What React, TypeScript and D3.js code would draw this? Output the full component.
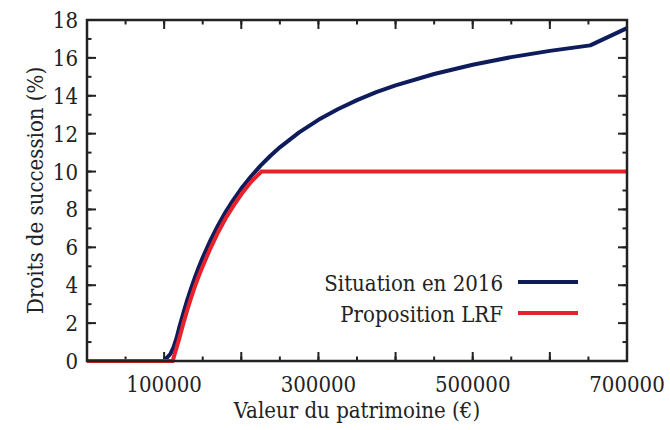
import React from "react";
import { scaleLinear, line, range } from "d3";

// Patrimoine (€) et droits de succession (%)
const situation2016X = [
  0, 100000, 104000, 108072, 112109, 115932, 120000, 125000, 130000, 135000,
  140000, 145000, 150000, 160000, 170000, 180000, 190000, 200000, 212500,
  225000, 237500, 250000, 275000, 300000, 325000, 350000, 375000, 400000,
  450000, 500000, 550000, 600000, 652324, 700000,
];
const situation2016Y = [
  0, 0, 0.19, 0.37, 0.72, 1.19, 1.83, 2.55, 3.23, 3.85, 4.42, 4.96, 5.46,
  6.37, 7.17, 7.89, 8.52, 9.1, 9.74, 10.31, 10.82, 11.28, 12.07, 12.73, 13.29,
  13.77, 14.19, 14.55, 15.15, 15.64, 16.04, 16.37, 16.66, 17.57,
];

const lrfX = [
  0, 111000, 115000, 120000, 125000, 130000, 135000, 140000, 145000, 150000,
  160000, 170000, 180000, 190000, 200000, 212500, 226000, 700000,
];
const lrfY = [
  0, 0, 0.55, 1.25, 2.0, 2.7, 3.35, 3.95, 4.5, 5.0, 5.95, 6.8, 7.55, 8.2, 8.8,
  9.45, 10.0, 10.0,
];

const xTickLabels = [100000, 300000, 500000, 700000];
const yTickLabels = [0, 2, 4, 6, 8, 10, 12, 14, 16, 18];

const W = 670;
const H = 430;
const left = 87;
const right = 627;
const top = 20;
const bottom = 361;

const FONT = '"DejaVu Serif Condensed", "DejaVu Serif", serif';
const BLUE = "#0f1c5c";
const RED = "#e8222b";
const INK = "#222";

export default function App() {
  const x = scaleLinear().domain([0, 700000]).range([left, right]);
  const y = scaleLinear().domain([0, 18]).range([bottom, top]);

  const path = line<[number, number]>()
    .x((d) => x(d[0]))
    .y((d) => y(d[1]));

  const blue = situation2016X.map((v, i) => [v, situation2016Y[i]] as [number, number]);
  const red = lrfX.map((v, i) => [v, lrfY[i]] as [number, number]);

  const xMinor = range(50000, 700000, 50000);
  const xMajor = range(100000, 700001, 100000);
  const yMinor = range(1, 18, 1);
  const yMajor = range(2, 18, 2);

  const major = 9;
  const minor = 4.5;

  const txt = {
    fontFamily: FONT,
    fontSize: "22px",
    fontStretch: "condensed",
    fill: INK,
  };

  return (
    <svg
      width={W}
      height={H}
      style={{ position: "absolute", left: 0, top: 0, background: "#fff" }}
    >
      <g stroke={INK} strokeWidth={2}>
        {xMinor.map((v) => (
          <g key={"xm" + v}>
            <line x1={x(v)} x2={x(v)} y1={bottom} y2={bottom - minor} />
            <line x1={x(v)} x2={x(v)} y1={top} y2={top + minor} />
          </g>
        ))}
        {xMajor.map((v) => (
          <g key={"xM" + v}>
            <line x1={x(v)} x2={x(v)} y1={bottom} y2={bottom - major} />
            <line x1={x(v)} x2={x(v)} y1={top} y2={top + major} />
          </g>
        ))}
        {yMinor.map((v) => (
          <g key={"ym" + v}>
            <line x1={left} x2={left + minor} y1={y(v)} y2={y(v)} />
            <line x1={right} x2={right - minor} y1={y(v)} y2={y(v)} />
          </g>
        ))}
        {yMajor.map((v) => (
          <g key={"yM" + v}>
            <line x1={left} x2={left + major} y1={y(v)} y2={y(v)} />
            <line x1={right} x2={right - major} y1={y(v)} y2={y(v)} />
          </g>
        ))}
      </g>

      <path d={path(blue) ?? ""} fill="none" stroke={BLUE} strokeWidth={4} strokeLinejoin="round" />
      <path d={path(red) ?? ""} fill="none" stroke={RED} strokeWidth={4} strokeLinejoin="miter" />

      <rect
        x={left}
        y={top}
        width={right - left}
        height={bottom - top}
        fill="none"
        stroke={INK}
        strokeWidth={2.5}
      />

      <g style={txt}>
        {xTickLabels.map((v) => (
          <text key={"xl" + v} x={x(v)} y={392} textAnchor="middle" style={txt}>
            {v}
          </text>
        ))}
        {yTickLabels.map((v) => (
          <text key={"yl" + v} x={78} y={y(v) + 8} textAnchor="end" style={txt}>
            {v}
          </text>
        ))}
        <text x={(left + right) / 2} y={418} textAnchor="middle" style={txt}>
          Valeur du patrimoine (€)
        </text>
        <text
          transform={`translate(43,${(top + bottom) / 2}) rotate(-90)`}
          textAnchor="middle"
          style={txt}
        >
          Droits de succession (%)
        </text>

        <text x={503} y={291} textAnchor="end" style={txt}>
          Situation en 2016
        </text>
        <text x={503} y={322} textAnchor="end" style={txt}>
          Proposition LRF
        </text>
      </g>
      <line x1={518} x2={578} y1={282} y2={282} stroke={BLUE} strokeWidth={4} />
      <line x1={518} x2={578} y1={313} y2={313} stroke={RED} strokeWidth={4} />
    </svg>
  );
}
